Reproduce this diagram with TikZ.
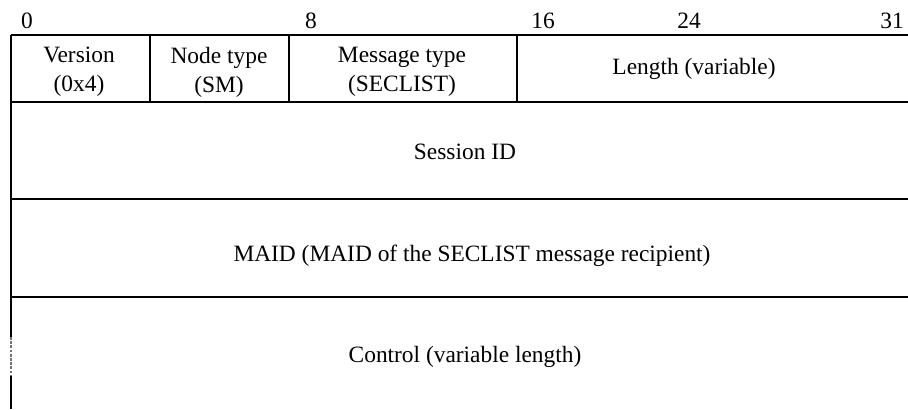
\documentclass[tikz,border=0pt]{standalone}
\usepackage{fontspec}
\setmainfont{Liberation Serif}
\begin{document}
\begin{tikzpicture}[x=0.5pt,y=-0.5pt,
  rule/.style={line width=1pt},
  gap/.style={line width=1pt, draw=black!55, dash pattern=on 1.4pt off 0.7pt},
  field/.style={align=center, inner sep=0pt, font=\fontsize{11.7}{14.4}\selectfont},
  bitnum/.style={anchor=base, inner sep=0pt, font=\fontsize{11.7}{14.4}\selectfont}]
\useasboundingbox (0,0) rectangle (908,409);
% bit numbers
\node[bitnum] (b0) at (27,28) {0};
\node[bitnum] (b8) at (311,28) {8};
\node[bitnum] (b16) at (543,28) {16};
\node[bitnum] (b24) at (689,28) {24};
\node[bitnum] (b31) at (892,28) {31};
% horizontal rules
\coordinate (tl) at (11,35);   \coordinate (tr) at (908,35);
\coordinate (l1) at (11,102);  \coordinate (r1) at (908,102);
\coordinate (l2) at (11,199);  \coordinate (r2) at (908,199);
\coordinate (l3) at (11,297);  \coordinate (r3) at (908,297);
\coordinate (gs) at (11,337);  \coordinate (ge) at (11,376);
\coordinate (bl) at (11,409);
\draw[rule] (tl) -- (tr);
\draw[rule] (l1) -- (r1);
\draw[rule] (l2) -- (r2);
\draw[rule] (l3) -- (r3);
% left edge
\draw[rule] (tl) -- (gs);
\draw[gap] (gs) -- (ge);
\draw[rule] (ge) -- (bl);
% dividers in first row
\coordinate (d1t) at (150,35);  \coordinate (d1b) at (150,102);
\coordinate (d2t) at (289,35);  \coordinate (d2b) at (289,102);
\coordinate (d3t) at (517,35);  \coordinate (d3b) at (517,102);
\draw[rule] (d1t) -- (d1b);
\draw[rule] (d2t) -- (d2b);
\draw[rule] (d3t) -- (d3b);
% fields
\node[field] (ver) at (79,72) {Version\\(0x4)};
\node[field] (ntype) at (219,72) {Node type\\(SM)};
\node[field] (mtype) at (402,72) {Message type\\(SECLIST)};
\node[field] (len) at (694,69) {Length (variable)};
\node[field] (sid) at (465,152) {Session ID};
\node[field] (maid) at (472,256) {MAID (MAID of the SECLIST message recipient)};
\node[field] (ctrl) at (465,357) {Control (variable length)};
\end{tikzpicture}
\end{document}
